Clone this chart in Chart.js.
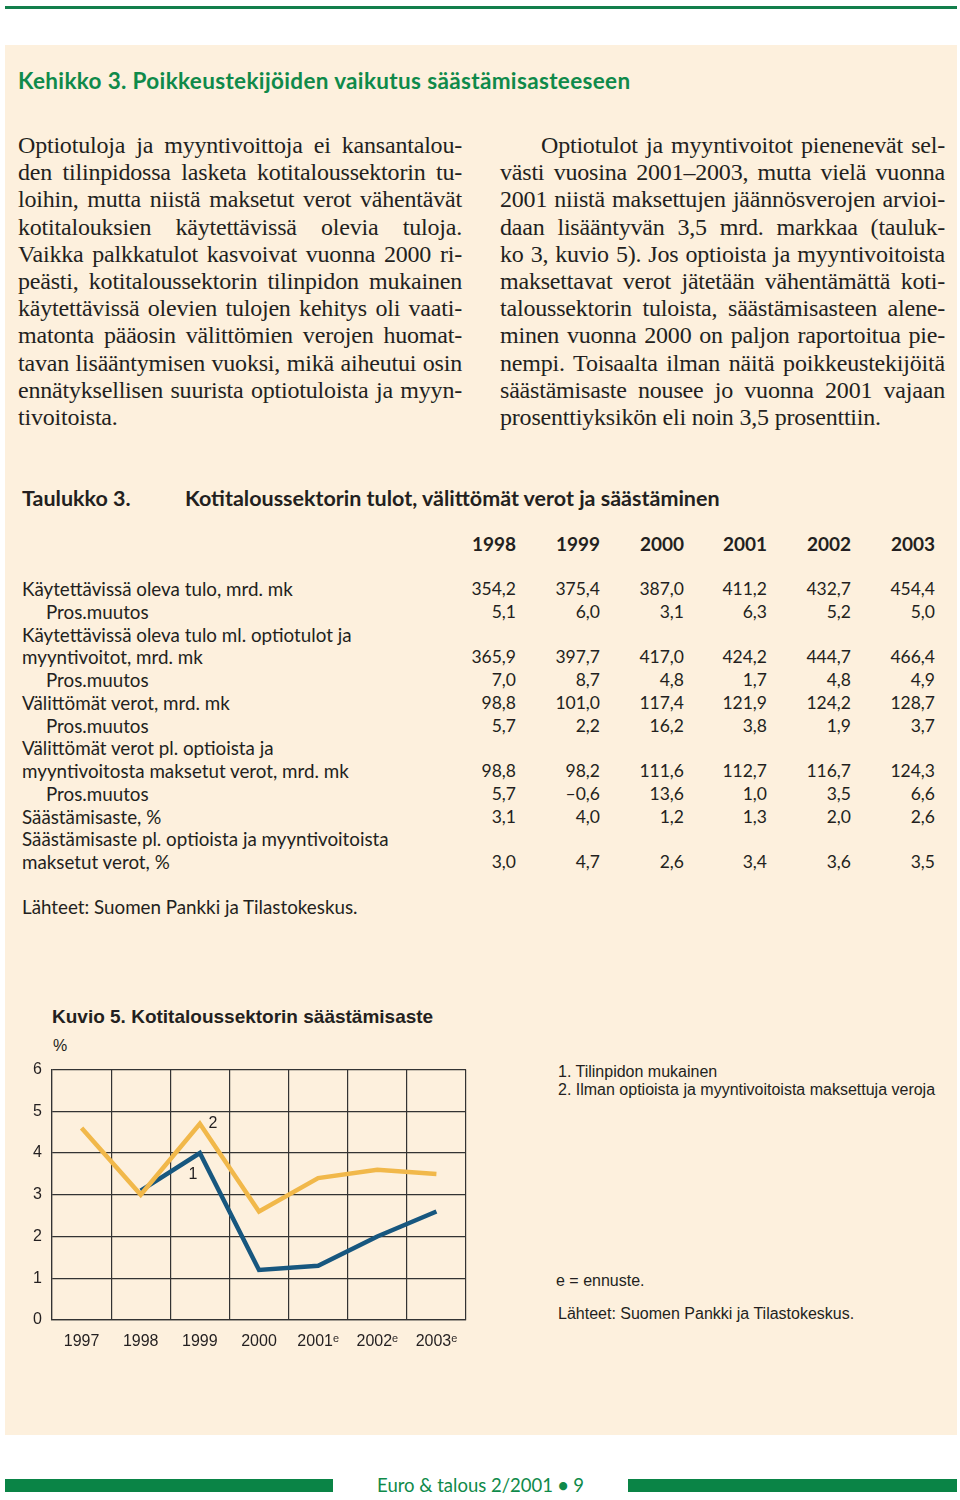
<!DOCTYPE html>
<html lang="fi">
<head>
<meta charset="utf-8">
<title>Kehikko 3</title>
<script src="https://cdn.jsdelivr.net/npm/chart.js@4/dist/chart.umd.min.js"></script>
<style>
  html, body { margin: 0; padding: 0; background: #fff; }
  body { width: 960px; height: 1500px; position: relative; overflow: hidden; color: #231f20; }
  .abs { position: absolute; }
  .rule { position: absolute; background: #137f4c; }
  .box { position: absolute; left: 5px; top: 45px; width: 952px; height: 1390px; background: #fdf0dd; }
  .title { left: 18px; top: 67px; font: bold 22.5px Lato, sans-serif; color: #0f8a4a; letter-spacing: 0.35px; }
  .col { position: absolute; font: 24px "Liberation Serif", serif; line-height: 27.2px; letter-spacing: -0.2px; }
  .col .ln { text-align: justify; text-align-last: justify; }
  .col .ln.last { text-align-last: left; }
  .tab { font: 18.8px Lato, sans-serif; color: #231f20; }
  .tab .num { position: absolute; text-align: right; width: 70px; font-size: 17.5px; }
  .tab .lbl { position: absolute; white-space: nowrap; }
  .fig { font-family: "Liberation Sans", Arial, sans-serif; color: #231f20; }
</style>
</head>
<body>
<div class="rule" style="left:5px; top:6px; width:952px; height:3px;"></div>
<div class="box"></div>

<div class="abs title">Kehikko 3. Poikkeustekijöiden vaikutus säästämisasteeseen</div>

<div class="col" style="left:18px; top:132px; width:444px;">
  <div class="ln">Optiotuloja ja myyntivoittoja ei kansantalou-</div>
  <div class="ln">den tilinpidossa lasketa kotitaloussektorin tu-</div>
  <div class="ln">loihin, mutta niistä maksetut verot vähentävät</div>
  <div class="ln">kotitalouksien käytettävissä olevia tuloja.</div>
  <div class="ln">Vaikka palkkatulot kasvoivat vuonna 2000 ri-</div>
  <div class="ln">peästi, kotitaloussektorin tilinpidon mukainen</div>
  <div class="ln">käytettävissä olevien tulojen kehitys oli vaati-</div>
  <div class="ln">matonta pääosin välittömien verojen huomat-</div>
  <div class="ln">tavan lisääntymisen vuoksi, mikä aiheutui osin</div>
  <div class="ln">ennätyksellisen suurista optiotuloista ja myyn-</div>
  <div class="ln last">tivoitoista.</div>
</div>

<div class="col" style="left:500px; top:132px; width:445px;">
  <div class="ln" style="padding-left:41px;">Optiotulot ja myyntivoitot pienenevät sel-</div>
  <div class="ln">västi vuosina 2001–2003, mutta vielä vuonna</div>
  <div class="ln">2001 niistä maksettujen jäännösverojen arvioi-</div>
  <div class="ln">daan lisääntyvän 3,5 mrd. markkaa (tauluk-</div>
  <div class="ln">ko 3, kuvio 5). Jos optioista ja myyntivoitoista</div>
  <div class="ln">maksettavat verot jätetään vähentämättä koti-</div>
  <div class="ln">taloussektorin tuloista, säästämisasteen alene-</div>
  <div class="ln">minen vuonna 2000 on paljon raportoitua pie-</div>
  <div class="ln">nempi. Toisaalta ilman näitä poikkeustekijöitä</div>
  <div class="ln">säästämisaste nousee jo vuonna 2001 vajaan</div>
  <div class="ln last">prosenttiyksikön eli noin 3,5 prosenttiin.</div>
</div>

<div id="table" class="abs tab" style="left:0; top:0;"></div>

<!-- Kuvio 5 -->
<div class="abs fig" style="left:52px; top:1006px; font-weight:bold; font-size:19px;">Kuvio 5. Kotitaloussektorin säästämisaste</div>
<div class="abs fig" style="left:53px; top:1037px; font-size:16px;">%</div>
<div class="abs" style="left:0; top:1050px; width:480px; height:310px;">
  <canvas id="saving-chart"></canvas>
</div>
<div class="abs fig" style="left:558px; top:1063px; font-size:16px; line-height:18px;">
  1. Tilinpidon mukainen<br>2. Ilman optioista ja myyntivoitoista maksettuja veroja
</div>
<div class="abs fig" style="left:556px; top:1272px; font-size:16px;">e = ennuste.</div>
<div class="abs fig" style="left:558px; top:1305px; font-size:16px;">Lähteet: Suomen Pankki ja Tilastokeskus.</div>

<!-- footer -->
<div class="rule" style="left:5px; top:1479px; width:328px; height:13px; background:#0a8446;"></div>
<div class="rule" style="left:628px; top:1479px; width:329px; height:13px; background:#0a8446;"></div>
<div class="abs" style="left:333px; width:295px; top:1474px; text-align:center; font:18.5px Lato, sans-serif; color:#0f8a4a;">Euro &amp; talous 2/2001 <b>•</b> 9</div>

<script>
'use strict';

// ---- Taulukko 3 ----
const tableYears = ['1998', '1999', '2000', '2001', '2002', '2003'];
const rowLabels = [
  'Käytettävissä oleva tulo, mrd. mk',
  'Pros.muutos',
  'Käytettävissä oleva tulo ml. optiotulot ja',
  'myyntivoitot, mrd. mk',
  'Pros.muutos',
  'Välittömät verot, mrd. mk',
  'Pros.muutos',
  'Välittömät verot pl. optioista ja',
  'myyntivoitosta maksetut verot, mrd. mk',
  'Pros.muutos',
  'Säästämisaste, %',
  'Säästämisaste pl. optioista ja myyntivoitoista',
  'maksetut verot, %',
];
const rowIndent = [0, 1, 0, 0, 1, 0, 1, 0, 0, 1, 0, 0, 0];
const rowValues = [
  ['354,2', '375,4', '387,0', '411,2', '432,7', '454,4'],
  ['5,1', '6,0', '3,1', '6,3', '5,2', '5,0'],
  null,
  ['365,9', '397,7', '417,0', '424,2', '444,7', '466,4'],
  ['7,0', '8,7', '4,8', '1,7', '4,8', '4,9'],
  ['98,8', '101,0', '117,4', '121,9', '124,2', '128,7'],
  ['5,7', '2,2', '16,2', '3,8', '1,9', '3,7'],
  null,
  ['98,8', '98,2', '111,6', '112,7', '116,7', '124,3'],
  ['5,7', '–0,6', '13,6', '1,0', '3,5', '6,6'],
  ['3,1', '4,0', '1,2', '1,3', '2,0', '2,6'],
  null,
  ['3,0', '4,7', '2,6', '3,4', '3,6', '3,5'],
];

// ---- Kuvio 5 ----
const years = ['1997', '1998', '1999', '2000', '2001ᵉ', '2002ᵉ', '2003ᵉ'];
const series1 = [null, 3.1, 4.0, 1.2, 1.3, 2.0, 2.6];   // 1. Tilinpidon mukainen
const series2 = [4.6, 3.0, 4.7, 2.6, 3.4, 3.6, 3.5];    // 2. Ilman optioista ... veroja
const yTicks = [0, 1, 2, 3, 4, 5, 6];

(function buildTable() {
  const el = document.getElementById('table');
  const colRight = [516, 600, 684, 767, 851, 935];
  const rowTop = 577, rowStep = 22.75;
  let html = `
    <div class="lbl" style="left:22px; top:485px; font-weight:bold; font-size:21.5px;">Taulukko 3.</div>
    <div class="lbl" style="left:185px; top:485px; font-weight:bold; font-size:21.5px;">Kotitaloussektorin tulot, välittömät verot ja säästäminen</div>
  `;
  tableYears.forEach((y, i) => {
    html += `<div class="num" style="left:${colRight[i] - 70}px; top:532px; font-weight:bold; font-size:19px;">${y}</div>`;
  });
  rowLabels.forEach((lbl, r) => {
    const top = rowTop + r * rowStep;
    html += `<div class="lbl" style="left:${rowIndent[r] ? 46 : 22}px; top:${top}px;">${lbl}</div>`;
    if (rowValues[r]) {
      rowValues[r].forEach((v, i) => {
        html += `<div class="num" style="left:${colRight[i] - 70}px; top:${top + 1}px;">${v}</div>`;
      });
    }
  });
  html += `<div class="lbl" style="left:22px; top:895px;">Lähteet: Suomen Pankki ja Tilastokeskus.</div>`;
  el.innerHTML = html;
})();

// series number labels next to 1999 points
const seriesLabels = {
  id: 'seriesLabels',
  afterDatasetsDraw(chart) {
    const { ctx, scales: { x, y } } = chart;
    ctx.save();
    ctx.font = '16px "Liberation Sans", Arial, sans-serif';
    ctx.fillStyle = '#231f20';
    ctx.textAlign = 'center';
    ctx.textBaseline = 'middle';
    ctx.fillText('1', x.getPixelForValue(2) - 7, y.getPixelForValue(series1[2]) + 22);
    ctx.fillText('2', x.getPixelForValue(2) + 13, y.getPixelForValue(series2[2]));
    ctx.restore();
  }
};

new Chart(document.getElementById('saving-chart'), {
  type: 'line',
  data: {
    labels: years,
    datasets: [
      {
        label: '2',
        data: series2,
        borderColor: '#f1b84a',
        borderWidth: 4.5,
        pointRadius: 0,
        tension: 0,
      },
      {
        label: '1',
        data: series1,
        borderColor: '#17577f',
        borderWidth: 4.5,
        pointRadius: 0,
        tension: 0,
      },
    ],
  },
  options: {
    responsive: true,
    maintainAspectRatio: false,
    animation: false,
    layout: { padding: { top: 16, right: 14, left: 0, bottom: 0 } },
    plugins: { legend: { display: false }, tooltip: { enabled: false } },
    scales: {
      x: {
        offset: true,
        grid: { offset: true, color: '#333333', lineWidth: 1.2, drawTicks: false },
        border: { color: '#333333', width: 1.2 },
        ticks: { color: '#231f20', padding: 12, maxRotation: 0, font: { family: '"Liberation Sans", Arial, sans-serif', size: 16 } },
        afterFit(scale) { scale.height = 40; },
      },
      y: {
        min: yTicks[0],
        max: yTicks[yTicks.length - 1],
        afterBuildTicks(scale) { scale.ticks = yTicks.map(v => ({ value: v })); },
        grid: { color: '#333333', lineWidth: 1.2, drawTicks: false },
        border: { color: '#333333', width: 1.2 },
        ticks: { color: '#231f20', padding: 10, font: { family: '"Liberation Sans", Arial, sans-serif', size: 16 } },
        afterFit(scale) { scale.width = 52; },
      },
    },
  },
  plugins: [seriesLabels],
});
</script>
</body>
</html>
